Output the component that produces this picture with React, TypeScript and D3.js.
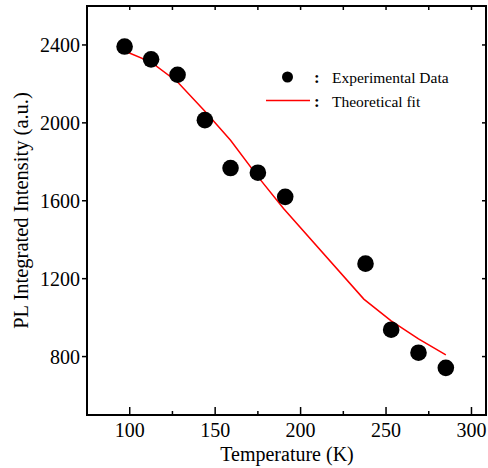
import React from "react";
import * as d3 from "d3";

const temperatures = [97, 112.5, 128, 144, 159, 175, 191, 238, 253, 269, 285];
const intensities = [2392, 2326, 2247, 2014, 1768, 1744, 1620, 1277, 938, 820, 742];
const fitTemperatures = [97, 112.5, 128, 144, 159, 175, 190, 237, 253, 269, 285];
const fitIntensities = [2369, 2312, 2210, 2060, 1911, 1724, 1560, 1095, 983, 891, 809];
const xTicks = [100, 150, 200, 250, 300];
const xMinorTicks = [125, 175, 225, 275];
const yTicks = [800, 1200, 1600, 2000, 2400];
const legendLabels = ["Experimental Data", "Theoretical fit"];

const W = 488;
const H = 468;
const L = 87, R = 486, T = 6, B = 415;
const FONT = "'Liberation Serif', 'Times New Roman', serif";

export default function App() {
  const x = d3.scaleLinear().domain([75, 308.5]).range([L, R]);
  const y = d3.scaleLinear().domain([500, 2600]).range([B, T]);
  const line = d3
    .line<number>()
    .x((_, i) => x(fitTemperatures[i]))
    .y((d) => y(d));

  return (
    <svg
      width={W}
      height={H}
      style={{ position: "absolute", left: 0, top: 0, background: "#fff" }}
      fontFamily={FONT}
    >
      <rect x={0} y={0} width={W} height={H} fill="#fff" />
      <rect x={L} y={T} width={R - L} height={B - T} fill="none" stroke="#000" strokeWidth={2} />
      {xTicks.map((t) => (
        <g key={"xt" + t}>
          <line x1={x(t)} x2={x(t)} y1={B} y2={B - 8} stroke="#000" strokeWidth={1.5} />
          <line x1={x(t)} x2={x(t)} y1={T} y2={T + 4} stroke="#000" strokeWidth={1.5} />
          <text x={x(t)} y={437} textAnchor="middle" fontSize={20} fill="#000">
            {t}
          </text>
        </g>
      ))}
      {xMinorTicks.map((t) => (
        <g key={"xm" + t}>
          <line x1={x(t)} x2={x(t)} y1={B} y2={B - 4} stroke="#000" strokeWidth={1.5} />
          <line x1={x(t)} x2={x(t)} y1={T} y2={T + 4} stroke="#000" strokeWidth={1.5} />
        </g>
      ))}
      {yTicks.map((t) => (
        <g key={"yt" + t}>
          <line x1={L - 5} x2={L} y1={y(t)} y2={y(t)} stroke="#000" strokeWidth={1.5} />
          <line x1={R - 4} x2={R} y1={y(t)} y2={y(t)} stroke="#000" strokeWidth={1.5} />
          <text x={80} y={y(t)} dy="0.35em" textAnchor="end" fontSize={20} fill="#000">
            {t}
          </text>
        </g>
      ))}
      <text x={287} y={461} textAnchor="middle" fontSize={20} fill="#000">
        Temperature (K)
      </text>
      <text
        transform={`translate(28, ${(T + B) / 2}) rotate(-90)`}
        textAnchor="middle"
        fontSize={20.5}
        fill="#000"
      >
        PL Integrated Intensity (a.u.)
      </text>
      <path d={line(fitIntensities) || ""} fill="none" stroke="#ff0000" strokeWidth={1.5} />
      {temperatures.map((t, i) => (
        <circle key={"p" + i} cx={x(t)} cy={y(intensities[i])} r={8.3} fill="#000" />
      ))}
      <circle cx={287.5} cy={77} r={5.5} fill="#000" />
      <text x={314} y={83} fontSize={17} fontWeight="bold" fill="#000">:</text>
      <text x={332} y={83} fontSize={15.5} fill="#000">{legendLabels[0]}</text>
      <line x1={266} x2={310} y1={100.5} y2={100.5} stroke="#ff0000" strokeWidth={1.5} />
      <text x={314} y={106.5} fontSize={17} fontWeight="bold" fill="#000">:</text>
      <text x={332} y={106.5} fontSize={15.5} fill="#000">{legendLabels[1]}</text>
    </svg>
  );
}
